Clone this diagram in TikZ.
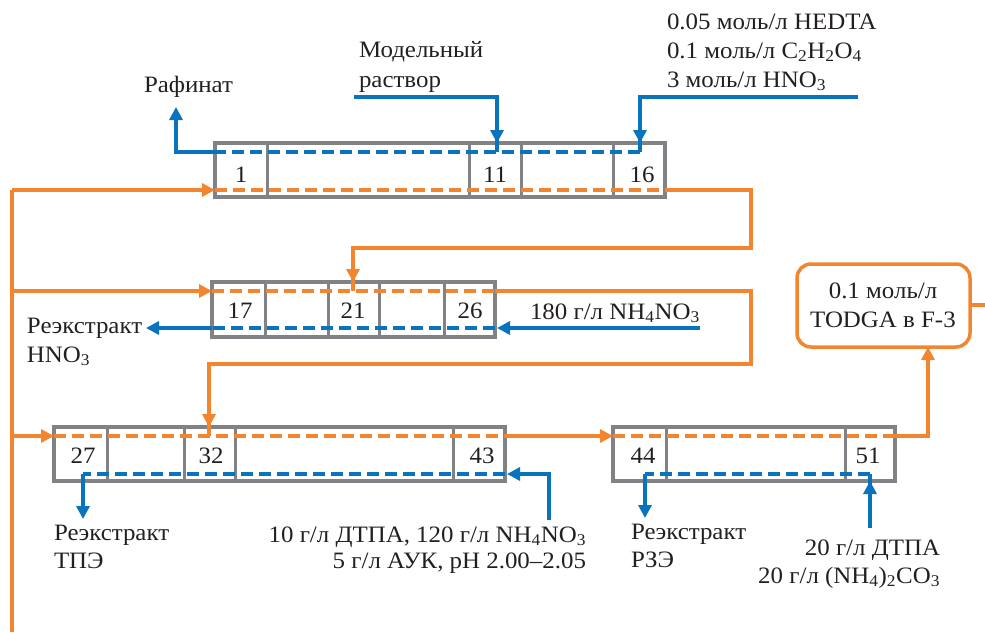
\documentclass[tikz,border=0pt]{standalone}
\usepackage{fontspec}
\setmainfont[FakeStretch=1.06]{Liberation Serif}
\usetikzlibrary{arrows.meta}
\definecolor{org}{RGB}{242,133,45}
\definecolor{blu}{RGB}{10,115,190}
\definecolor{gry}{RGB}{128,130,133}
\definecolor{txt}{RGB}{35,31,32}
\begin{document}
\begin{tikzpicture}[x=1pt,y=-1pt,
  every node/.style={inner sep=0pt,outer sep=0pt,text=txt,font=\fontsize{23.5}{29}\selectfont},
  cellbox/.style={draw=gry,line width=4pt,anchor=north west,minimum height=54pt},
  divider/.style={draw=gry,line width=3pt},
  oline/.style={draw=org,line width=3.5pt},
  bline/.style={draw=blu,line width=3.5pt},
  odash/.style={oline,dash pattern=on 12pt off 6pt},
  bdash/.style={bline,dash pattern=on 12pt off 6pt},
  tip/.style={-{Triangle[length=13pt,width=13pt]}},
  lbl/.style={anchor=base west},
  rlbl/.style={anchor=base east},
  num/.style={anchor=base}]
\useasboundingbox (0,0) rectangle (985,632);

% boxes
\node[cellbox,minimum width=450pt] (b1) at (215,143) {};
\node[cellbox,minimum width=283pt,minimum height=55pt] (b2) at (212,282) {};
\node[cellbox,minimum width=451pt] (b3) at (54,427) {};
\node[cellbox,minimum width=282pt] (b4) at (613,427) {};
\node[draw=org,line width=3.5pt,rounded corners=14pt,anchor=north west,
      minimum width=173pt,minimum height=83pt] (todga) at (797,264) {};

% dividers
\foreach \x in {267,469,521,613} \draw[divider] (\x,0 |- b1.north) -- (\x,0 |- b1.south);
\foreach \x in {265,328,379,444} \draw[divider] (\x,0 |- b2.north) -- (\x,0 |- b2.south);
\foreach \x in {107,184,235,453} \draw[divider] (\x,0 |- b3.north) -- (\x,0 |- b3.south);
\foreach \x in {666,845} \draw[divider] (\x,0 |- b4.north) -- (\x,0 |- b4.south);

% named routing points
\coordinate (oL1) at (12,190);
\coordinate (oL2) at (12,291);
\coordinate (oL3) at (12,436);
\coordinate (oBot) at (12,632);
\coordinate (bY1) at (0,152);
\coordinate (bY2) at (0,328);
\coordinate (bY3) at (0,474);

% ---- orange (organic) flows
\draw[oline] (oBot) -- (oL1);
\draw[oline,tip] (oL1) -- (b1.west |- oL1);
\draw[oline,tip] (oL2) -- (b2.west |- oL2);
\draw[oline,tip] (oL3) -- (b3.west |- oL3);

\draw[odash] (b1.west |- oL1) -- (b1.east |- oL1);
\draw[oline] (b1.east |- oL1) -- (751,190) -- (751,248) -- (353,248) -- (353,291);
\draw[oline,tip] (353,262) -- (353,282);

\draw[odash] (b2.west |- oL2) -- (b2.east |- oL2);
\draw[oline] (b2.east |- oL2) -- (751,291) -- (751,364) -- (209,364) -- (209,436);
\draw[oline,tip] (209,405) -- (209,427);

\draw[odash] (b3.west |- oL3) -- (b3.east |- oL3);
\draw[oline,tip] (b3.east |- oL3) -- (b4.west |- oL3);

\draw[odash] (b4.west |- oL3) -- (b4.east |- oL3);
\draw[oline,tip] (b4.east |- oL3) -- (928,436) -- (928 ,0 |- todga.south);
\draw[oline] (todga.east |- 0,305) -- (985,305);

% ---- blue (aqueous) flows
\coordinate (modIn) at (354,97);
\coordinate (feedIn) at (858,97);
\draw[bdash] (640,152) -- (b1.west |- bY1);
\draw[bline,tip] (b1.west |- bY1) -- (176,152) -- (176,107);
\draw[bline] (modIn) -- (497,97) -- (497,152);
\draw[bline,tip] (497,120) -- (497,0 |- b1.north);
\draw[bline] (feedIn) -- (640,97) -- (640,152);
\draw[bline,tip] (640,120) -- (640,0 |- b1.north);

\coordinate (nh4In) at (700,328);
\draw[bline,tip] (nh4In) -- ([xshift=2pt]b2.east |- bY2);
\draw[bdash] (b2.east |- bY2) -- (b2.west |- bY2);
\draw[bline,tip] (b2.west |- bY2) -- (146,328);

\coordinate (dtpaIn) at (549,520);
\draw[bline,tip] (dtpaIn) -- (549,474) -- ([xshift=2pt]b3.east |- bY3);
\draw[bdash] (b3.east |- bY3) -- (83,474);
\draw[bline,tip] (83,474) -- (83,519);

\coordinate (carbIn) at (870,528);
\draw[bdash] (870,474) -- (645,474);
\draw[bline,tip] (645,474) -- (645,518);
\draw[bline] (carbIn) -- (870,474);
\draw[bline,tip] (870,505) -- (870,0 |- b4.south);

% ---- stage numbers
\node[num] (s1) at (241,182) {1};
\node[num] (s11) at (495,182) {11};
\node[num] (s16) at (642,182) {16};
\node[num] (s17) at (240,318) {17};
\node[num] (s21) at (353,318) {21};
\node[num] (s26) at (470,318) {26};
\node[num] (s27) at (83,463) {27};
\node[num] (s32) at (211,463) {32};
\node[num] (s43) at (482,463) {43};
\node[num] (s44) at (643,463) {44};
\node[num] (s51) at (868,463) {51};

% ---- labels
\node[lbl] (raf) at (144,92) {Рафинат};
\node[lbl] (mod1) at (359,57) {Модельный};
\node[lbl] (mod2) at (359,87) {раствор};
\node[lbl] (f1) at (667,29) {0.05 моль/л HEDTA};
\node[lbl] (f2) at (667,58) {0.1 моль/л C\textsubscript{2}H\textsubscript{2}O\textsubscript{4}};
\node[lbl] (f3) at (667,87) {3 моль/л HNO\textsubscript{3}};
\node[lbl] (nh4) at (530,319) {180 г/л NH\textsubscript{4}NO\textsubscript{3}};
\node[lbl] (re1a) at (27,333) {Реэкстракт};
\node[lbl] (re1b) at (27,362) {HNO\textsubscript{3}};
\node[num] (t1) at (883,298) {0.1 моль/л};
\node[num] (t2) at (883,327) {TODGA в F-3};
\node[lbl] (re2a) at (54,540) {Реэкстракт};
\node[lbl] (re2b) at (54,568) {ТПЭ};
\node[rlbl] (d1) at (586,542) {10 г/л ДТПА, 120 г/л NH\textsubscript{4}NO\textsubscript{3}};
\node[rlbl] (d2) at (586,568) {5 г/л АУК, pH 2.00–2.05};
\node[lbl] (re3a) at (631,539) {Реэкстракт};
\node[lbl] (re3b) at (631,567) {РЗЭ};
\node[rlbl] (c1) at (940,555) {20 г/л ДТПА};
\node[rlbl] (c2) at (940,583) {20 г/л (NH\textsubscript{4})\textsubscript{2}CO\textsubscript{3}};
\end{tikzpicture}
\end{document}
